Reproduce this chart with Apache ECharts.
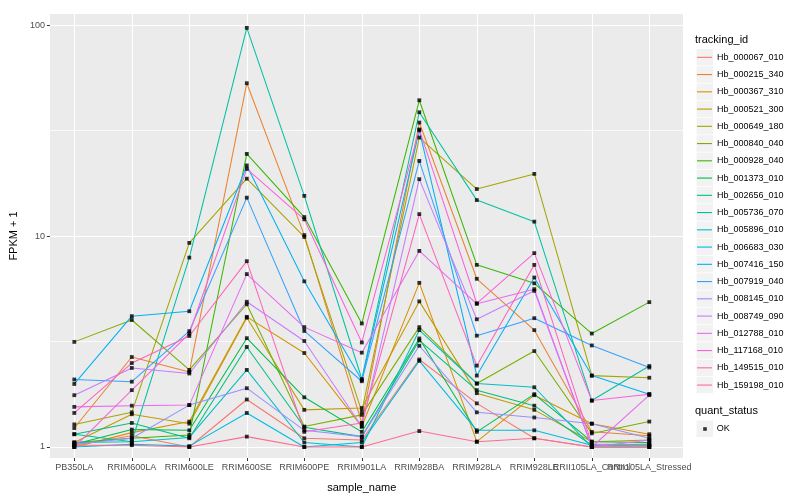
<!DOCTYPE html>
<html><head><meta charset="utf-8">
<script src="https://cdn.jsdelivr.net/npm/echarts@6/dist/echarts.min.js"></script>
<style>html,body{margin:0;padding:0;background:#fff}#c{width:800px;height:500px}</style>
</head><body><div id="c"></div>
<script>
const categories = ['PB350LA','RRIM600LA','RRIM600LE','RRIM600SE','RRIM600PE','RRIM901LA','RRIM928BA','RRIM928LA','RRIM928LE','RRII105LA_Control','RRII105LA_Stressed'];
const trackingIds = ['Hb_000067_010','Hb_000215_340','Hb_000367_310','Hb_000521_300','Hb_000649_180','Hb_000840_040','Hb_000928_040','Hb_001373_010','Hb_002656_010','Hb_005736_070','Hb_005896_010','Hb_006683_030','Hb_007416_150','Hb_007919_040','Hb_008145_010','Hb_008749_090','Hb_012788_010','Hb_117168_010','Hb_149515_010','Hb_159198_010'];
const lineColors = ['#F8766D','#EA8331','#D89000','#C09B00','#A3A500','#7CAE00','#39B600','#00BB4E','#00BF7D','#00C1A3','#00BFC4','#00BAE0','#00B0F6','#35A2FF','#9590FF','#C77CFF','#E76BF3','#FA62DB','#FF62BC','#FF6C91'];

const hb_000067_010 = [1.02, 1.13, 1.0, 1.68, 1.1, 1.08, 2.6, 1.61, 1.1, 1.0, 1.0];
const hb_000215_340 = [1.23, 2.67, 2.27, 53, 10.1, 1.3, 34.5, 6.27, 3.58, 1.18, 1.13];
const hb_000367_310 = [1.0, 1.17, 1.32, 4.14, 2.79, 1.25, 6.0, 1.06, 1.76, 1.29, 1.15];
const hb_000521_300 = [1.05, 1.43, 1.29, 4.1, 1.5, 1.53, 4.9, 1.8, 1.5, 1.06, 1.08];
const hb_000649_180 = [1.28, 1.46, 9.28, 18.7, 9.9, 1.47, 29.3, 16.7, 19.7, 2.18, 2.13];
const hb_000840_040 = [3.15, 4.0, 2.32, 4.75, 1.25, 1.42, 3.7, 2.0, 2.85, 1.16, 1.32];
const hb_000928_040 = [1.05, 1.1, 1.14, 24.5, 12.3, 3.85, 44, 7.3, 5.97, 3.45, 4.86];
const hb_001373_010 = [1.03, 1.21, 1.2, 3.28, 1.72, 1.18, 3.27, 1.18, 1.78, 1.06, 1.05];
const hb_002656_010 = [1.15, 1.3, 1.1, 2.98, 1.24, 1.12, 3.2, 1.86, 1.57, 1.02, 1.02];
const hb_005736_070 = [1.15, 1.06, 7.9, 97, 15.5, 2.1, 38.6, 14.8, 11.7, 1.66, 2.42];
const hb_005896_010 = [1.05, 1.06, 1.11, 2.32, 1.05, 1.0, 3.58, 2.0, 1.92, 1.0, 1.0];
const hb_006683_030 = [1.0, 1.03, 1.01, 1.45, 1.0, 1.05, 2.56, 1.2, 1.2, 1.02, 1.03];
const hb_007416_150 = [1.99, 4.17, 4.4, 21.6, 6.1, 2.08, 31.7, 2.18, 6.36, 2.18, 1.78];
const hb_007919_040 = [2.09, 2.04, 3.54, 15.2, 3.55, 2.05, 22.7, 3.37, 4.08, 3.03, 2.38];
const hb_008145_010 = [1.03, 1.1, 1.58, 1.9, 1.2, 1.12, 3.02, 1.46, 1.38, 1.29, 1.1];
const hb_008749_090 = [1.76, 2.37, 2.23, 4.88, 3.18, 1.25, 18.6, 4.03, 5.5, 1.0, 1.08];
const hb_012788_010 = [1.55, 1.57, 1.58, 6.6, 3.7, 2.8, 8.5, 4.77, 5.6, 1.0, 1.76];
const hb_117168_010 = [1.0, 1.86, 3.45, 20.8, 12.0, 3.13, 32, 4.8, 8.3, 1.66, 1.78];
const hb_149515_010 = [1.45, 2.5, 3.36, 7.6, 1.18, 1.3, 12.7, 2.43, 7.3, 1.03, 1.03];
const hb_159198_010 = [1.02, 1.02, 1.0, 1.12, 1.0, 1.0, 1.19, 1.06, 1.1, 1.0, 1.0];

const seriesValues = [hb_000067_010, hb_000215_340, hb_000367_310, hb_000521_300, hb_000649_180, hb_000840_040, hb_000928_040, hb_001373_010, hb_002656_010, hb_005736_070, hb_005896_010, hb_006683_030, hb_007416_150, hb_007919_040, hb_008145_010, hb_008749_090, hb_012788_010, hb_117168_010, hb_149515_010, hb_159198_010];

const yTickValues = [1, 10, 100];
const yMinorValues = [3.1623, 31.623];
const yMin = 0.887, yMax = 112.8;

const FONT = 'Liberation Sans, Arial, Helvetica, sans-serif';
const chart = echarts.init(document.getElementById('c'), null, {renderer: 'canvas'});

const lineSeries = trackingIds.map((id, i) => ({
  name: id, type: 'line', xAxisIndex: 1, yAxisIndex: 1,
  data: seriesValues[i], showSymbol: false, symbol: 'none',
  lineStyle: {color: lineColors[i], width: 1.05}, itemStyle: {color: lineColors[i]},
  emphasis: {disabled: true}, z: 2
}));

const minorGridSeries = yMinorValues.map(v => ({
  type: 'line', name: '_minor' + v, xAxisIndex: 0, yAxisIndex: 0,
  data: [[0, v], [1, v]], showSymbol: false, symbol: 'none', silent: true,
  lineStyle: {color: '#FFFFFF', width: 0.75}, emphasis: {disabled: true}, z: 1
}));

const pointData = [];
seriesValues.forEach(arr => arr.forEach((v, j) => pointData.push([categories[j], v])));

const keyRects = trackingIds.map((id, i) => ({
  type: 'rect', shape: {x: 696.5, y: 49 + i * 17.25, width: 16.5, height: 16.5},
  style: {fill: '#F2F2F2'}, z: -1
}));
keyRects.push({type: 'rect', shape: {x: 696.5, y: 420.5, width: 16.5, height: 16.5}, style: {fill: '#F2F2F2'}, z: -1});

const option = {
  animation: false,
  backgroundColor: '#FFFFFF',
  textStyle: {fontFamily: FONT},
  title: [
    {text: 'tracking_id', left: 695, top: 34, padding: 0, textStyle: {fontSize: 11, fontWeight: 'normal', color: '#000', fontFamily: FONT}},
    {text: 'quant_status', left: 695, top: 405, padding: 0, textStyle: {fontSize: 11, fontWeight: 'normal', color: '#000', fontFamily: FONT}}
  ],
  grid: [
    {left: 40, top: 14, width: 643, height: 444, show: true, backgroundColor: '#EBEBEB', borderWidth: 0},
    {left: 74.3, top: 14, width: 575, height: 444, show: false}
  ],
  xAxis: [
    {type: 'value', gridIndex: 0, min: 0, max: 1, show: false},
    {type: 'category', gridIndex: 1, data: categories, boundaryGap: false,
     name: 'sample_name', nameLocation: 'middle', nameGap: 24,
     nameTextStyle: {fontSize: 11, color: '#000', fontFamily: FONT},
     axisLine: {show: false},
     axisTick: {show: true, length: 3, lineStyle: {color: '#333333', width: 1}},
     axisLabel: {interval: 0, hideOverlap: false, fontSize: 9, color: '#4D4D4D', margin: 5, fontFamily: FONT},
     splitLine: {show: true, lineStyle: {color: '#FFFFFF', width: 1.1}}}
  ],
  yAxis: [
    {type: 'log', logBase: 10, gridIndex: 0, min: yMin, max: yMax,
     name: 'FPKM + 1', nameLocation: 'middle', nameGap: 27,
     nameTextStyle: {fontSize: 11, color: '#000', fontFamily: FONT},
     axisLine: {show: false},
     axisTick: {show: true, length: 3, customValues: yTickValues, lineStyle: {color: '#333333', width: 1}},
     axisLabel: {fontSize: 9, color: '#4D4D4D', margin: 5, customValues: yTickValues, fontFamily: FONT},
     splitLine: {show: true, lineStyle: {color: '#FFFFFF', width: 1.1}},
     minorSplitLine: {show: false}},
    {type: 'log', logBase: 10, gridIndex: 1, min: yMin, max: yMax, show: false,
     splitLine: {show: false}}
  ],
  legend: [
    {data: trackingIds.map((id, i) => ({name: id, itemStyle: {color: lineColors[i]}})),
     orient: 'vertical', left: 697, top: 48.7, padding: 0, itemGap: 0,
     icon: 'rect', itemWidth: 15, itemHeight: 1.1, selectedMode: false,
     textStyle: {fontSize: 9, color: '#000', lineHeight: 17.25, fontFamily: FONT}},
    {data: [{name: 'OK', itemStyle: {color: '#000'}}],
     orient: 'vertical', left: 703.2, top: 420.5, padding: 0, itemGap: 0,
     icon: 'rect', itemWidth: 3.6, itemHeight: 3.6, selectedMode: false,
     textStyle: {fontSize: 9, color: '#000', lineHeight: 17, padding: [0, 0, 0, 5], fontFamily: FONT}}
  ],
  graphic: keyRects,
  series: [
    ...minorGridSeries,
    ...lineSeries,
    {type: 'scatter', name: 'OK', xAxisIndex: 1, yAxisIndex: 1, data: pointData,
     symbol: 'rect', symbolSize: 3.8, itemStyle: {color: '#000'}, z: 5, emphasis: {disabled: true}}
  ]
};
chart.setOption(option);
</script></body></html>
